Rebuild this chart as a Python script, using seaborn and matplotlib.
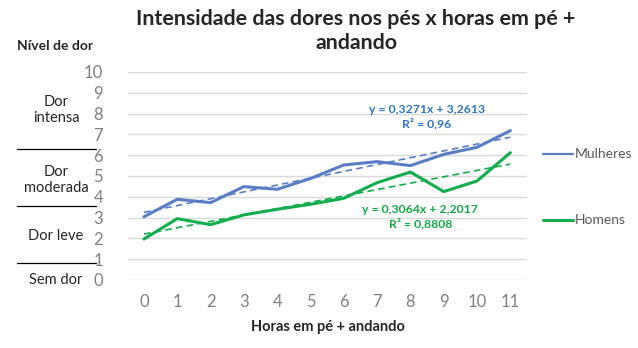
import numpy as np
import pandas as pd
import matplotlib
matplotlib.use("Agg")
import matplotlib.pyplot as plt
import seaborn as sns
from matplotlib.lines import Line2D

horas = list(range(12))
mulheres = [3.04, 3.88, 3.72, 4.49, 4.36, 4.88, 5.53, 5.69, 5.50, 6.04, 6.38, 7.18]
homens = [1.97, 2.95, 2.66, 3.13, 3.40, 3.64, 3.93, 4.68, 5.19, 4.25, 4.76, 6.12]
x_ticks = [str(h) for h in horas]
y_ticks = list(range(0, 11))
eq_mulheres = ["y = 0,3271x + 3,2613", "R² = 0,96"]
eq_homens = ["y = 0,3064x + 2,2017", "R² = 0,8808"]
niveis = ["Dor\nintensa", "Dor\nmoderada", "Dor leve", "Sem dor"]

sns.set_theme(style="white")
plt.rcParams['font.family'] = ['Lato', 'DejaVu Sans']

c_blue = "#5A7EC5"
c_blue_txt = "#2E75C6"
c_green = "#12AE4E"
c_green_txt = "#13A84A"
c_grey = "#808080"

df = pd.DataFrame({"horas": horas * 2,
                   "valor": mulheres + homens,
                   "serie": ["Mulheres"] * 12 + ["Homens"] * 12})

fig = plt.figure(figsize=(6.38, 3.48), dpi=100)
ax = fig.add_axes([128/638, 1-280/348, (527-128)/638, (280-72)/348])

sns.lineplot(data=df, x="horas", y="valor", hue="serie",
             palette={"Mulheres": c_blue, "Homens": c_green},
             linewidth=2.2, ax=ax, legend=False)
sns.regplot(x=horas, y=mulheres, scatter=False, ci=None, ax=ax,
            line_kws=dict(color=c_blue, lw=1.2, ls=(0, (4, 2.5))))
sns.regplot(x=horas, y=homens, scatter=False, ci=None, ax=ax,
            line_kws=dict(color=c_green, lw=1.2, ls=(0, (4, 2.5))))

ax.set_xlim(-0.48, 11.5)
ax.set_ylim(0, 10)
ax.set_xticks(horas)
ax.set_xticklabels(x_ticks)
ax.set_yticks(y_ticks)
ax.yaxis.grid(True, color="#D9D9D9", lw=1.0)
ax.xaxis.grid(False)
for s in ax.spines.values():
    s.set_visible(False)
ax.tick_params(axis="both", colors=c_grey, labelsize=12, length=0)
ax.tick_params(axis="y", pad=18)
ax.tick_params(axis="x", pad=10)
ax.set_xlabel("")
ax.set_ylabel("")

# trendline equations
ax.text(8.5, 7.85, eq_mulheres[0] + "\n" + eq_mulheres[1], color=c_blue_txt,
        fontsize=8.8, fontweight="bold", ha="center", va="center", linespacing=1.3)
ax.text(8.3, 3.03, eq_homens[0] + "\n" + eq_homens[1], color=c_green_txt,
        fontsize=8.8, fontweight="bold", ha="center", va="center", linespacing=1.3)

# title and labels
fig.text(356/638, 1-31/348, "Intensidade das dores nos pés x horas em pé +\nandando",
         ha="center", va="center", fontsize=15.4, fontweight="bold", linespacing=1.2)
fig.text(328/638, 1-327/348, "Horas em pé + andando", ha="center", va="center",
         fontsize=10.5, fontweight="bold")
fig.text(17/638, 1-46/348, "Nível de dor", ha="left", va="center",
         fontsize=10, fontweight="bold")

# pain level labels and separators
for txt, yp in zip(niveis, [110, 180, 236, 280]):
    fig.text(56/638, 1-yp/348, txt, ha="center", va="center", fontsize=10.5,
             color="#262626", linespacing=1.2)
for yp in [149, 206, 263]:
    fig.add_artist(Line2D([17/638, 96/638], [1-yp/348, 1-yp/348],
                          color="black", lw=0.9, transform=fig.transFigure))

# legend
for name, col, yp in [("Mulheres", c_blue, 154), ("Homens", c_green, 220)]:
    fig.add_artist(Line2D([543/638, 573/638], [1-yp/348, 1-yp/348], color=col,
                          lw=2.2 if name == "Homens" else 1.6, transform=fig.transFigure))
    fig.text(575/638, 1-yp/348, name, ha="left", va="center", fontsize=10, color="#595959")

fig.savefig("out.png", dpi=100)
